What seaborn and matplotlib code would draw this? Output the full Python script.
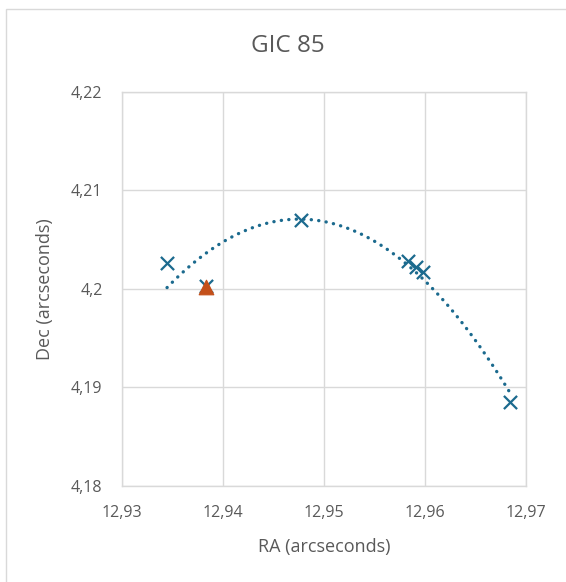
import numpy as np
import pandas as pd
import matplotlib
matplotlib.use('Agg')
import matplotlib.pyplot as plt
import seaborn as sns
from matplotlib.ticker import FuncFormatter, MultipleLocator
from matplotlib.patches import Rectangle

# measured positions (arcseconds)
ra = [12.93446, 12.93832, 12.94769, 12.95835, 12.95911, 12.95983, 12.96842]
dec = [4.20263, 4.20030, 4.20699, 4.20286, 4.20225, 4.20168, 4.18856]

# reference position
ref_ra = [12.93832]
ref_dec = [4.20020]

title = 'GIC 85'
x_label = 'RA (arcseconds)'
y_label = 'Dec (arcseconds)'

blue = '#1B6A8E'
orange = '#C4501A'
grey_text = '#595959'
grid_col = '#D9D9D9'

sns.set_theme(style='white')
plt.rcParams['font.family'] = ['Open Sans', 'DejaVu Sans']

df = pd.DataFrame({'RA': ra, 'Dec': dec})
ref = pd.DataFrame({'RA': ref_ra, 'Dec': ref_dec})

fig = plt.figure(figsize=(5.66, 5.82), dpi=100)
ax = fig.add_axes([122 / 566, 1 - 486 / 582, 404 / 566, 394.3 / 582])

# polynomial trendline (order 2), round dots
sns.regplot(data=df, x='RA', y='Dec', order=2, ci=None, scatter=False, ax=ax,
            line_kws=dict(color=blue, lw=2.4, ls=(0, (0.05, 2.2)),
                          dash_capstyle='round'))

sns.scatterplot(data=df, x='RA', y='Dec', marker='x', s=90, color=blue,
                linewidth=1.6, ax=ax, zorder=4)
sns.scatterplot(data=ref, x='RA', y='Dec', marker='^', s=110, color=orange,
                edgecolor=orange, ax=ax, zorder=5)

ax.set_xlim(12.93, 12.97)
ax.set_ylim(4.18, 4.22)
ax.xaxis.set_major_locator(MultipleLocator(0.01))
ax.yaxis.set_major_locator(MultipleLocator(0.01))

fmt = FuncFormatter(lambda v, p: f'{round(v, 4):g}'.replace('.', ','))
ax.xaxis.set_major_formatter(fmt)
ax.yaxis.set_major_formatter(fmt)

ax.grid(True, color=grid_col, lw=1)
ax.set_axisbelow(True)
for s in ax.spines.values():
    s.set_color(grid_col)
    s.set_linewidth(1)

ax.tick_params(axis='both', length=0, labelsize=11.5, labelcolor=grey_text, pad=14)
ax.set_xlabel(x_label, fontsize=13, color=grey_text, labelpad=12)
ax.set_ylabel(y_label, fontsize=13, color=grey_text, labelpad=12)

fig.text(288 / 566, 1 - 46.5 / 582, title, ha='center', va='center',
         fontsize=17.5, color=grey_text)

# chart border (cropped on the right and bottom)
fig.patches.append(Rectangle((5.5 / 566, -0.1), 1.2, 1.1 - 9 / 582,
                             transform=fig.transFigure, fill=False,
                             ec=grid_col, lw=1))

fig.savefig('out.png', dpi=100)
